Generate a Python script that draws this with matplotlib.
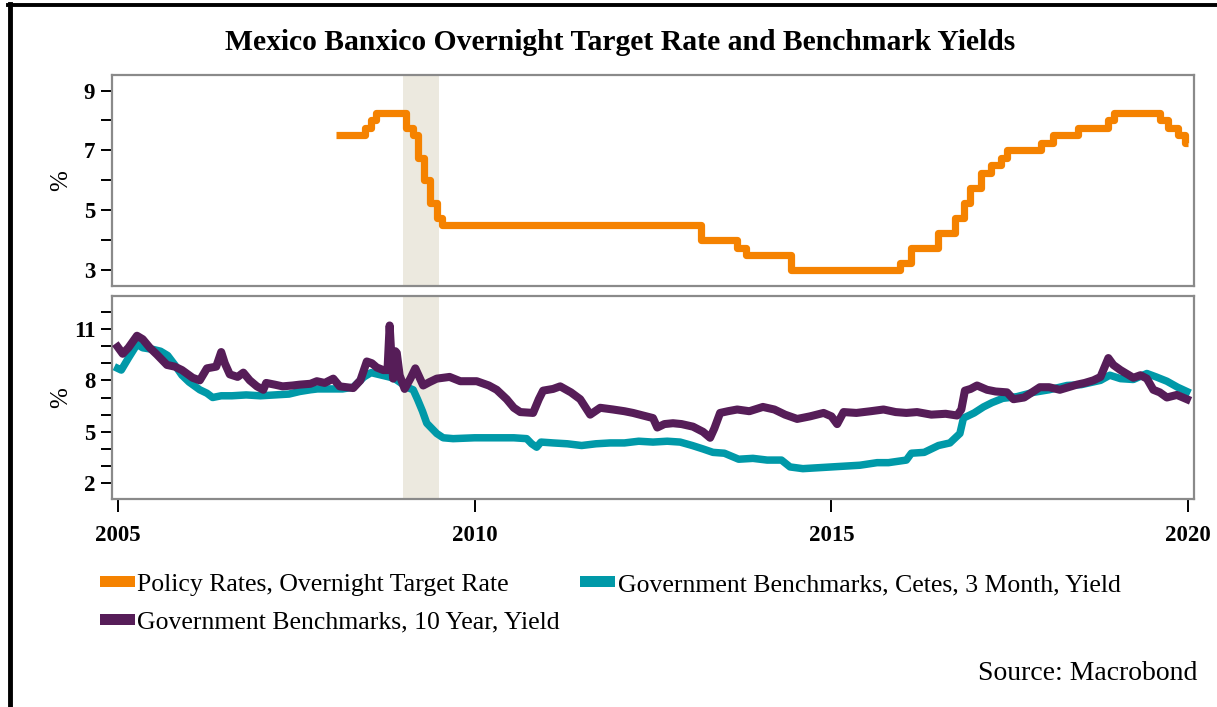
import matplotlib
matplotlib.use("Agg")
import matplotlib.pyplot as plt
from matplotlib.lines import Line2D
from matplotlib.patches import Patch

# ---------------- data (decimal years) ----------------
policy_t = [2008.06, 2008.47, 2008.55, 2008.62, 2009.04, 2009.14, 2009.21, 2009.29,
            2009.37, 2009.47, 2009.54, 2013.17, 2013.68, 2013.80, 2014.43, 2015.96,
            2016.11, 2016.49, 2016.73, 2016.86, 2016.94, 2017.10, 2017.23, 2017.37,
            2017.46, 2017.93, 2018.10, 2018.45, 2018.87, 2018.96, 2019.61, 2019.71,
            2019.85, 2019.96, 2019.99]
policy_v = [7.50, 7.75, 8.00, 8.25, 7.75, 7.50, 6.75, 6.00,
            5.25, 4.75, 4.50, 4.00, 3.75, 3.50, 3.00, 3.25,
            3.75, 4.25, 4.75, 5.25, 5.75, 6.25, 6.50, 6.75,
            7.00, 7.25, 7.50, 7.75, 8.00, 8.25, 8.00, 7.75,
            7.50, 7.25, 7.25]

cetes_t = [2005.00, 2005.05, 2005.15, 2005.27, 2005.35, 2005.50, 2005.60, 2005.70,
           2005.80, 2005.90, 2006.00, 2006.15, 2006.25, 2006.33, 2006.45, 2006.60,
           2006.80, 2007.00, 2007.20, 2007.40, 2007.55, 2007.70, 2007.80, 2008.00,
           2008.15, 2008.30, 2008.45, 2008.55, 2008.70, 2008.80, 2008.88, 2008.95,
           2009.05, 2009.14, 2009.20, 2009.27, 2009.33, 2009.40, 2009.47, 2009.56,
           2009.70, 2010.00, 2010.30, 2010.55, 2010.73, 2010.80, 2010.87, 2010.93,
           2011.10, 2011.30, 2011.50, 2011.70, 2011.90, 2012.10, 2012.30, 2012.50,
           2012.70, 2012.88, 2013.05, 2013.20, 2013.34, 2013.50, 2013.70, 2013.90,
           2014.10, 2014.30, 2014.42, 2014.60, 2014.80, 2015.00, 2015.20, 2015.40,
           2015.64, 2015.80, 2016.05, 2016.12, 2016.30, 2016.50, 2016.66, 2016.80,
           2016.85, 2017.00, 2017.13, 2017.25, 2017.40, 2017.60, 2017.83, 2018.05,
           2018.30, 2018.50, 2018.77, 2018.90, 2019.05, 2019.23, 2019.42, 2019.55,
           2019.70, 2019.85, 2019.98]
cetes_v = [8.70, 8.60, 9.30, 10.10, 9.90, 9.80, 9.70, 9.45,
           8.90, 8.30, 7.90, 7.45, 7.25, 7.00, 7.10, 7.10,
           7.15, 7.10, 7.15, 7.20, 7.35, 7.45, 7.50, 7.50,
           7.50, 7.60, 8.20, 8.45, 8.30, 8.20, 8.10, 7.90,
           7.60, 7.45, 6.90, 6.20, 5.50, 5.20, 4.90, 4.65,
           4.60, 4.65, 4.65, 4.65, 4.60, 4.30, 4.10, 4.40,
           4.35, 4.30, 4.20, 4.30, 4.35, 4.35, 4.45, 4.40,
           4.45, 4.40, 4.20, 4.00, 3.80, 3.75, 3.40, 3.45,
           3.35, 3.35, 2.95, 2.85, 2.90, 2.95, 3.00, 3.05,
           3.20, 3.20, 3.35, 3.75, 3.80, 4.20, 4.35, 4.90,
           5.80, 6.10, 6.45, 6.70, 6.95, 7.05, 7.30, 7.45,
           7.70, 7.75, 8.00, 8.30, 8.10, 8.05, 8.40, 8.20,
           7.95, 7.60, 7.35]

y10_t = [2005.00, 2005.07, 2005.15, 2005.27, 2005.35, 2005.45, 2005.55, 2005.69,
         2005.80, 2005.90, 2006.05, 2006.15, 2006.25, 2006.38, 2006.45, 2006.50,
         2006.57, 2006.68, 2006.76, 2006.85, 2006.95, 2007.04, 2007.08, 2007.20,
         2007.31, 2007.45, 2007.55, 2007.70, 2007.79, 2007.90, 2008.02, 2008.11,
         2008.20, 2008.30, 2008.40, 2008.49, 2008.56, 2008.63, 2008.72, 2008.78,
         2008.81, 2008.84, 2008.86, 2008.89, 2008.91, 2008.95, 2009.02, 2009.10,
         2009.17, 2009.28, 2009.37, 2009.47, 2009.65, 2009.80, 2010.03, 2010.20,
         2010.31, 2010.45, 2010.55, 2010.64, 2010.82, 2010.90, 2010.96, 2011.10,
         2011.20, 2011.35, 2011.48, 2011.62, 2011.76, 2011.94, 2012.10, 2012.22,
         2012.41, 2012.50, 2012.56, 2012.66, 2012.78, 2012.90, 2013.06, 2013.20,
         2013.30, 2013.36, 2013.44, 2013.55, 2013.68, 2013.85, 2014.04, 2014.20,
         2014.35, 2014.52, 2014.70, 2014.89, 2015.00, 2015.08, 2015.17, 2015.35,
         2015.55, 2015.73, 2015.90, 2016.05, 2016.20, 2016.40, 2016.60, 2016.76,
         2016.82, 2016.87, 2016.95, 2017.04, 2017.18, 2017.30, 2017.46, 2017.55,
         2017.70, 2017.92, 2018.05, 2018.20, 2018.32, 2018.44, 2018.55, 2018.67,
         2018.77, 2018.84, 2018.88, 2018.95, 2019.05, 2019.23, 2019.33, 2019.42,
         2019.51, 2019.60, 2019.70, 2019.84, 2019.98]
y10_v = [9.95, 9.55, 9.90, 10.60, 10.40, 9.90, 9.50, 8.90,
         8.80, 8.60, 8.15, 8.00, 8.70, 8.80, 9.65, 9.00,
         8.35, 8.20, 8.45, 8.00, 7.65, 7.45, 7.85, 7.75,
         7.65, 7.70, 7.75, 7.80, 7.95, 7.85, 8.10, 7.65,
         7.60, 7.55, 8.00, 9.10, 9.00, 8.75, 8.60, 8.60,
         11.20, 9.00, 8.10, 9.70, 9.60, 8.30, 7.50, 8.10,
         8.70, 7.70, 7.90, 8.10, 8.20, 7.95, 7.95, 7.70,
         7.45, 6.90, 6.40, 6.15, 6.10, 6.90, 7.40, 7.50,
         7.65, 7.30, 6.90, 6.00, 6.40, 6.30, 6.20, 6.10,
         5.90, 5.80, 5.25, 5.45, 5.50, 5.45, 5.30, 5.00,
         4.65, 5.20, 6.10, 6.20, 6.30, 6.20, 6.45, 6.30,
         6.00, 5.75, 5.90, 6.10, 5.90, 5.45, 6.15, 6.10,
         6.20, 6.30, 6.15, 6.10, 6.15, 6.00, 6.05, 5.95,
         6.30, 7.40, 7.50, 7.70, 7.45, 7.35, 7.30, 6.90,
         7.00, 7.60, 7.60, 7.45, 7.60, 7.75, 7.85, 8.00,
         8.20, 8.90, 9.30, 8.90, 8.60, 8.15, 8.30, 8.10,
         7.45, 7.30, 7.00, 7.15, 6.90]

recession = (2009.0, 2009.5)
x_ticks = [2005, 2010, 2015, 2020]
top_major = [3, 5, 7, 9]
top_minor = [4, 6, 8]
bot_major = [2, 5, 8, 11]
bot_minor = [3, 4, 6, 7, 9, 10, 12]

title = "Mexico Banxico Overnight Target Rate and Benchmark Yields"
label_policy = "Policy Rates, Overnight Target Rate"
label_cetes = "Government Benchmarks, Cetes, 3 Month, Yield"
label_10y = "Government Benchmarks, 10 Year, Yield"
source = "Source: Macrobond"

# ---------------- style ----------------
ORANGE = "#F58200"
TEAL = "#0099A8"
PURPLE = "#561D58"
SHADE = "#ECE9DF"
SPINE = "#8A8A8A"
SERIF = ["Liberation Serif", "DejaVu Serif"]

W, H = 1217, 707
fig = plt.figure(figsize=(W / 100, H / 100), dpi=100)

def fx(px):
    return px / W

def fy(py):
    return 1 - py / H

ax1 = fig.add_axes([fx(112), fy(286), fx(1194) - fx(112), fy(75) - fy(286)])
ax2 = fig.add_axes([fx(112), fy(499), fx(1194) - fx(112), fy(296) - fy(499)])

xlim = (2004.92, 2020.08)
for ax in (ax1, ax2):
    ax.set_xlim(*xlim)
    ax.axvspan(*recession, color=SHADE, lw=0, zorder=0)
    for s in ax.spines.values():
        s.set_color(SPINE)
        s.set_linewidth(1.6)
    ax.tick_params(axis="y", which="both", direction="out", length=8, width=1.4,
                   color="black", pad=4)

ax1.step(policy_t, policy_v, where="post", color=ORANGE, lw=5.2,
         solid_joinstyle="round", solid_capstyle="butt", zorder=3)
ax1.set_ylim(2.47, 9.52)
ax1.set_yticks(top_major)
ax1.set_yticks(top_minor, minor=True)
ax1.set_xticks([])

ax2.plot(cetes_t, cetes_v, color=TEAL, lw=5.4, solid_joinstyle="round", zorder=3)
ax2.plot(y10_t, y10_v, color=PURPLE, lw=5.8, solid_joinstyle="round", zorder=4)
ax2.set_ylim(1.08, 12.92)
ax2.set_yticks(bot_major)
ax2.set_yticks(bot_minor, minor=True)
ax2.set_xticks(x_ticks)
ax2.set_xticklabels([str(t) for t in x_ticks])
ax2.tick_params(axis="x", direction="out", length=9, width=1.4, color="black", pad=10)

for ax in (ax1, ax2):
    for lab in ax.get_yticklabels() + ax.get_xticklabels():
        lab.set_family(SERIF)
        lab.set_fontweight("bold")
        lab.set_fontsize(16.5)
    ax.set_ylabel("%", family=SERIF, fontsize=18)
    ax.yaxis.set_label_coords(-0.037, 0.5)

fig.text(fx(620), fy(42), title, ha="center", va="center", family=SERIF,
         fontweight="bold", fontsize=21.3)

handles = [Patch(facecolor=ORANGE, edgecolor="none"),
           Patch(facecolor=PURPLE, edgecolor="none"),
           Patch(facecolor=TEAL, edgecolor="none")]
labels = [label_policy, label_10y, label_cetes]
leg = fig.legend(handles, labels, loc="upper left",
                 bbox_to_anchor=(fx(82), fy(556)), ncol=2, frameon=False,
                 prop={"family": SERIF, "size": 18.5},
                 handlelength=1.35, handleheight=0.3, handletextpad=0.1,
                 columnspacing=0.8, labelspacing=0.6, borderpad=0.2)

fig.text(fx(1197), fy(674), source, ha="right", va="center", family=SERIF,
         fontsize=20)

# outer frame
fig.add_artist(Line2D([fx(9.5), fx(9.5)], [0, fy(4)], transform=fig.transFigure,
                      color="black", lw=3.5))
fig.add_artist(Line2D([fx(8), 1], [fy(5), fy(5)], transform=fig.transFigure,
                      color="black", lw=2.8))

fig.savefig("out.png", dpi=100)
